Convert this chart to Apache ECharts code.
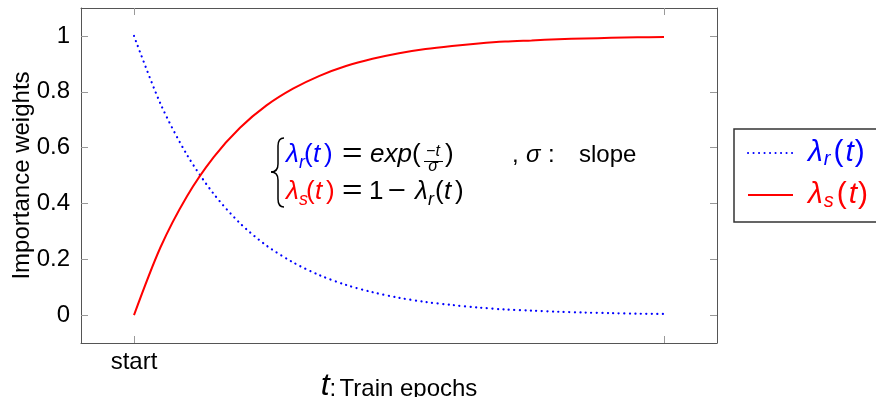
<!DOCTYPE html>
<html>
<head>
<meta charset="utf-8">
<script src="https://cdn.jsdelivr.net/npm/echarts@6/dist/echarts.min.js"></script>
<style>html,body{margin:0;padding:0;background:#fff}#c{width:876px;height:397px}</style>
</head>
<body>
<div id="c"></div>
<script>
// Data
var epochs = [0,0.05,0.1,0.15,0.2,0.25,0.3,0.35,0.4,0.45,0.5,0.55,0.6,0.65,0.7,0.75,0.8,0.85,0.9,0.95,1.0];
var lambdaR = [1,0.757,0.574,0.435,0.329,0.249,0.189,0.143,0.108,0.082,0.062,0.047,0.036,0.027,0.020,0.016,0.012,0.009,0.007,0.005,0.004];
var lambdaS = [0,0.243,0.426,0.565,0.671,0.751,0.811,0.857,0.892,0.918,0.938,0.953,0.964,0.973,0.980,0.984,0.988,0.991,0.993,0.995,0.996];
var xTicks = [0, 1];
var xTickLabels = ['start', ''];
var yTicks = [0, 0.2, 0.4, 0.6, 0.8, 1];
var yTickLabels = ['0', '0.2', '0.4', '0.6', '0.8', '1'];

var F = '"Liberation Sans", Arial, Helvetica, sans-serif';
var frame = '#555';
var tickCol = '#999';
var BLUE = '#0000ff', RED = '#ff0000';

function pairs(xs, ys){ return xs.map(function(x,i){ return [x, ys[i]]; }); }

function xAx(pos, labels){
  return {
    type:'value', position:pos, min:-0.1, max:1.1,
    axisLine:{show:true, onZero:false, lineStyle:{color:frame, width:1}},
    axisTick:{show:true, inside:true, length:7, customValues:xTicks, lineStyle:{color:tickCol}},
    axisLabel:{show:labels, customValues:[xTicks[0]], margin:7, color:'#000', fontFamily:F, fontSize:24,
      formatter:function(v){ var i = xTicks.indexOf(v); return i>=0 ? xTickLabels[i] : ''; }},
    splitLine:{show:false}
  };
}
function yAx(pos, labels){
  return {
    type:'value', position:pos, min:-0.1, max:1.1,
    axisLine:{show:true, onZero:false, lineStyle:{color:frame, width:1}},
    axisTick:{show:true, inside:true, length:7, customValues:yTicks, lineStyle:{color:tickCol}},
    axisLabel:{show:labels, customValues:yTicks, margin:11, color:'#000', fontFamily:F, fontSize:24,
      formatter:function(v){ for (var i=0;i<yTicks.length;i++){ if (Math.abs(yTicks[i]-v)<1e-9) return yTickLabels[i]; } return ''; }},
    splitLine:{show:false}
  };
}

var xa0 = xAx('bottom', true);
xa0.name = '{t|t}{c|:} {n|Train epochs}';
xa0.nameLocation = 'middle';
xa0.nameGap = 27;
xa0.nameMoveOverlap = false;
xa0.nameTextStyle = {rich:{
  t:{fontFamily:F, fontStyle:'italic', fontSize:32, color:'#000'},
  c:{fontFamily:F, fontSize:24, color:'#000', padding:[6,0,0,0]},
  n:{fontFamily:F, fontSize:24, color:'#000', padding:[6,0,0,0]}
}};
var xa1 = xAx('top', false);

var ya0 = yAx('left', true);
ya0.name = 'Importance weights';
ya0.nameLocation = 'middle';
ya0.nameGap = 47;
ya0.nameMoveOverlap = false;
ya0.nameTextStyle = {fontFamily:F, fontSize:24, color:'#000'};
var ya1 = yAx('right', false);

var legRich = {
  lb0:{fontFamily:F, fontStyle:'italic', fontSize:30, color:BLUE, padding:[0,1,0,10], lineHeight:32},
  sb:{fontFamily:F, fontStyle:'italic', fontSize:20, color:BLUE, padding:[12,3,0,0], lineHeight:32},
  pb:{fontFamily:F, fontSize:30, color:BLUE, lineHeight:32},
  lb:{fontFamily:F, fontStyle:'italic', fontSize:30, color:BLUE, padding:[0,1,0,2], lineHeight:32},
  lr0:{fontFamily:F, fontStyle:'italic', fontSize:30, color:RED, padding:[0,1,0,10], lineHeight:32},
  sr:{fontFamily:F, fontStyle:'italic', fontSize:20, color:RED, padding:[12,3,0,0], lineHeight:32},
  pr:{fontFamily:F, fontSize:30, color:RED, lineHeight:32},
  lr:{fontFamily:F, fontStyle:'italic', fontSize:30, color:RED, padding:[0,1,0,2], lineHeight:32}
};

function bz(x1,y1,cx,cy,x2,y2){ return {type:'bezierCurve', shape:{x1:x1,y1:y1,cpx1:cx,cpy1:cy,x2:x2,y2:y2}, style:{fill:null, stroke:'#000', lineWidth:1.5}}; }
function ln(x1,y1,x2,y2,w){ return {type:'line', shape:{x1:x1,y1:y1,x2:x2,y2:y2}, style:{stroke:'#000', lineWidth:w||1.5}}; }
function TA(s, x, y, size, color, italic, sx, align){
  var o = {type:'text', x:x, y:y, style:{text:s, align:align||'left', verticalAlign:'middle',
    fontFamily:F, fontSize:size, fontStyle:italic?'italic':'normal', fill:color}};
  if (sx) { o.scaleX = sx; }
  return o;
}

var L1 = 155, L2 = 191.5;
var eq = [
  bz(284,138,278,138,278,146), ln(278,146,278,164), bz(278,164,278,172,271,172),
  bz(271,172,278,172,278,180), ln(278,180,278,199), bz(278,199,278,207,284,207),
  // line 1
  TA('λ', 286, L1, 26, BLUE, true),
  TA('r', 299, L1+8, 18, BLUE, true),
  TA('(', 304, L1, 26, BLUE, false),
  TA('t', 313, L1, 26, BLUE, true),
  TA(')', 324, L1, 26, BLUE, false),
  TA('=', 342, L1, 27, '#000', false, 1.3),
  TA('exp', 370, L1, 26, '#000', true),
  TA('(', 412, L1, 26, '#000', false),
  TA('−t', 433, L1-3, 16, '#000', true, null, 'center'),
  ln(424,161.5,443,161.5,1),
  TA('σ', 433, L1+12, 16, '#000', true, null, 'center'),
  TA(')', 445, L1, 26, '#000', false),
  TA(',', 512, L1, 24, '#000', false),
  TA('σ', 526, L1, 24, '#000', true),
  TA(':', 548, L1, 24, '#000', false),
  TA('slope', 579, L1, 24, '#000', false),
  // line 2
  TA('λ', 286, L2, 26, RED, true),
  TA('s', 299, L2+8, 18, RED, true),
  TA('(', 306, L2, 26, RED, false),
  TA('t', 315, L2, 26, RED, true),
  TA(')', 326, L2, 26, RED, false),
  TA('=', 342, L2, 27, '#000', false, 1.3),
  TA('1', 369, L2, 26, '#000', false),
  TA('−', 388, L2, 27, '#000', false, 1.15),
  TA('λ', 415, L2, 26, '#000', true),
  TA('r', 428, L2+8, 18, '#000', true),
  TA('(', 435, L2, 26, '#000', false),
  TA('t', 444, L2, 26, '#000', true),
  TA(')', 455, L2, 26, '#000', false)
];

var chart = echarts.init(document.getElementById('c'), null, {renderer:'canvas'});
chart.setOption({
  animation:false,
  backgroundColor:'#fff',
  grid:{left:81, right:159, top:8, bottom:54, containLabel:false, outerBoundsMode:'none'},
  xAxis:[xa0, xa1],
  yAxis:[ya0, ya1],
  legend:{
    orient:'vertical', left:734, top:129,
    padding:[8,30,11,13], itemGap:10, itemWidth:45, itemHeight:14,
    borderColor:'#333', borderWidth:1.5, backgroundColor:'#fff',
    itemStyle:{opacity:0},
    data:[{name:'r'},{name:'s'}],
    formatter:function(n){ return n==='r' ? '{lb0|λ}{sb|r}{pb|(}{lb|t}{pb|)}' : '{lr0|λ}{sr|s}{pr|(}{lr|t}{pr|)}'; },
    textStyle:{rich:legRich}
  },
  series:[
    {name:'r', type:'line', xAxisIndex:0, yAxisIndex:0, data:pairs(epochs, lambdaR), smooth:0.3,
     symbol:'none', lineStyle:{color:BLUE, width:2.2, type:[0.1,5.4], cap:'round'}, itemStyle:{color:BLUE}},
    {name:'s', type:'line', xAxisIndex:0, yAxisIndex:0, data:pairs(epochs, lambdaS), smooth:0.3,
     symbol:'none', lineStyle:{color:RED, width:2}, itemStyle:{color:RED}}
  ],
  graphic:eq
});
</script>
</body>
</html>
